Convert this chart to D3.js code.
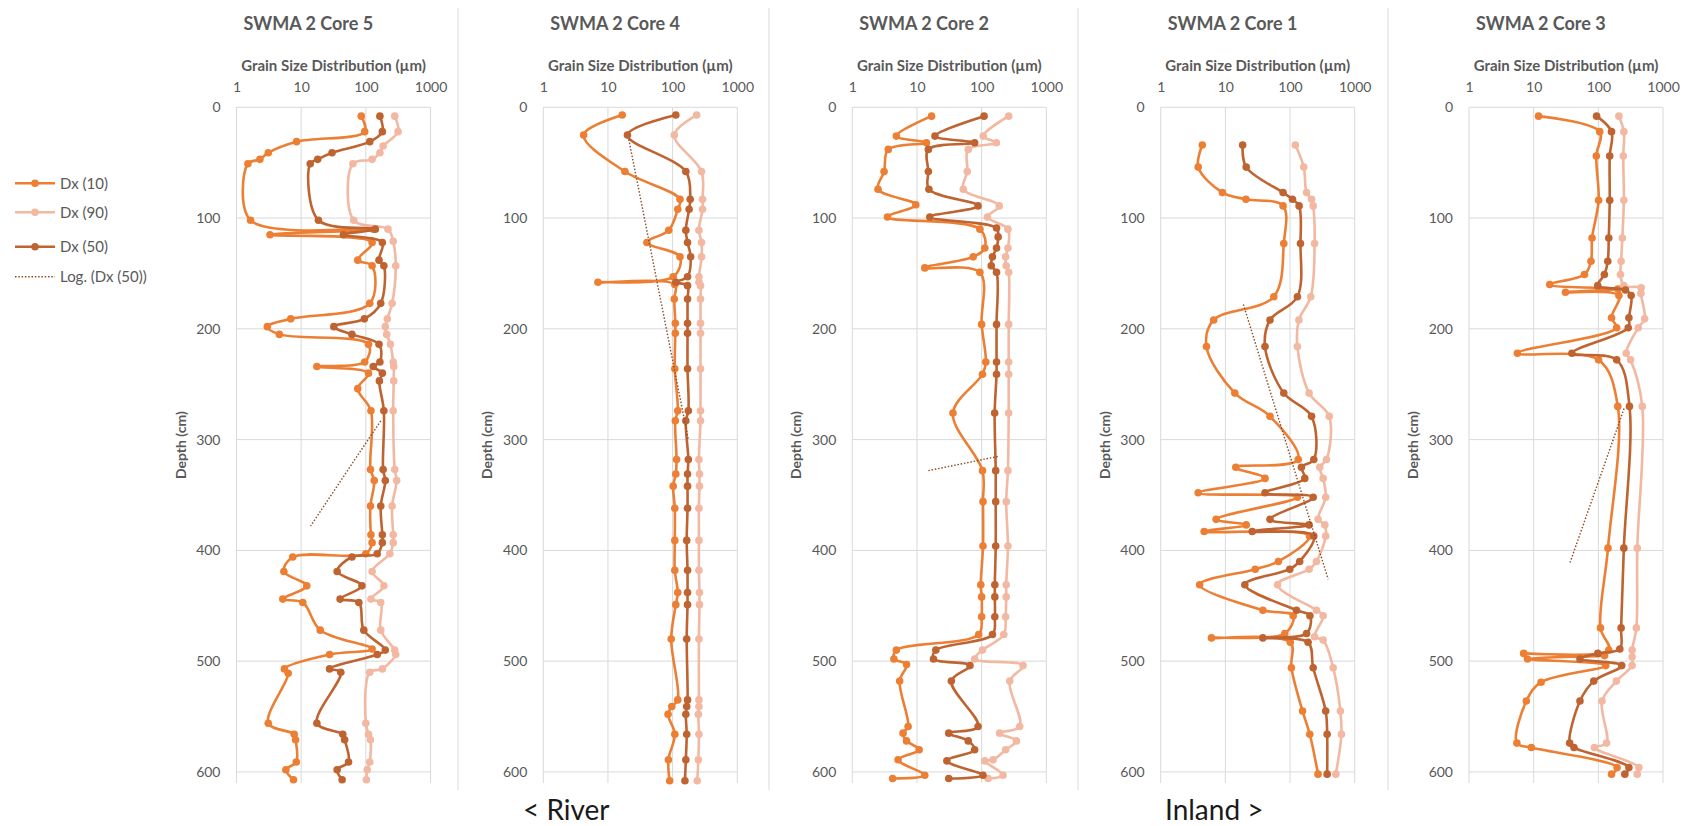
<!DOCTYPE html>
<html><head><meta charset="utf-8">
<script src="https://cdn.jsdelivr.net/npm/d3@7"></script>
<style>
body{margin:0;background:#fff}
svg{display:block}
text{font-family:Lato,"Open Sans",sans-serif}
</style>
</head><body>
<svg id="chart" width="1692" height="826"></svg>
<script>
// ---- data: [depth (cm), grain size (µm)] ----
const coreTitles = ["SWMA 2 Core 5", "SWMA 2 Core 4", "SWMA 2 Core 2", "SWMA 2 Core 1", "SWMA 2 Core 3"];
const sizeTicks = [1, 10, 100, 1000];
const depthTicks = [0, 100, 200, 300, 400, 500, 600];
const seriesNames = ["Dx (10)", "Dx (90)", "Dx (50)", "Log. (Dx (50))"];

const core5_dx10 = [[8,85],[22,96],[31,8.5],[41,3.1],[47,2.3],[51,1.5],[102,1.65],[110,130],[115,3.3],[122,125],[138,75],[143,125],[177,115],[191,6.9],[198,3],[205,4.6],[214,110],[230,96],[234,17.5],[240,110],[254,75],[274,120],[327,118],[337,135],[360,118],[386,120],[393,125],[403,100],[406,7.4],[419,5.4],[432,12.2],[444,5.2],[447,10.6],[472,19.7],[489,125],[494,27.5],[507,5.5],[511,6.3],[556,3.1],[566,7.8],[571,8.2],[591,8.4],[598,5.8],[607,7.6]];
const core5_dx50 = [[8,165],[22,180],[31,115],[41,30],[47,18],[51,13.8],[102,18.5],[110,140],[115,45],[122,180],[138,160],[143,190],[177,170],[191,95],[198,32],[205,61],[214,160],[230,165],[234,130],[240,180],[247,162],[274,190],[327,185],[337,200],[360,170],[386,180],[393,180],[403,150],[406,61],[419,36],[432,87],[444,40],[447,78],[472,93],[490,200],[494,150],[507,27.5],[510,41],[556,17.5],[566,44],[571,47],[591,54],[598,36],[607,43]];
const core5_dx90 = [[8,280],[22,315],[35,185],[41,165],[47,125],[51,63],[102,65],[110,220],[121,265],[143,290],[177,255],[191,215],[198,200],[205,210],[214,240],[230,265],[234,270],[247,270],[274,265],[327,280],[337,300],[360,255],[386,265],[393,265],[403,235],[419,125],[432,190],[444,120],[447,170],[472,170],[490,280],[494,290],[507,180],[510,115],[556,100],[566,110],[571,118],[591,115],[598,105],[607,102]];
const core5_trend = [[283,170],[378,14]];

const core4_dx10 = [[7,16.6],[25,4.2],[58,18.3],[83,130],[92,120],[111,87],[122,40],[135,130],[153,102],[158,7],[160,108],[173,106],[195,110],[204,110],[236,108],[274,120],[283,110],[318,115],[331,112],[342,102],[362,108],[391,108],[418,108],[438,120],[449,112],[480,95],[535,120],[541,97],[548,85],[566,108],[589,86],[608,90]];
const core4_dx50 = [[7,112],[25,20],[58,160],[83,187],[92,180],[111,160],[122,170],[135,190],[153,170],[158,112],[161,170],[173,170],[195,170],[204,170],[236,170],[274,175],[283,160],[318,175],[331,170],[342,170],[362,170],[391,165],[418,170],[438,170],[449,170],[480,165],[535,170],[541,165],[548,160],[566,165],[589,160],[608,155]];
const core4_dx90 = [[7,235],[25,106],[58,280],[83,290],[92,290],[111,255],[122,280],[135,280],[153,255],[158,255],[161,270],[173,270],[195,270],[204,270],[236,270],[274,270],[283,270],[318,255],[331,260],[342,260],[362,255],[391,255],[418,255],[438,260],[449,260],[480,255],[535,255],[541,255],[548,250],[566,255],[589,250],[608,240]];
const core4_trend = [[29,21],[300,175]];

const core2_dx10 = [[8,16.8],[26,4.8],[32,14],[38,3.6],[58,3.1],[74,2.5],[88,9.6],[99,3.5],[110,94],[127,112],[135,74],[145,13.2],[149,94],[196,100],[230,116],[241,103],[276,36],[328,103],[356,105],[396,105],[431,97],[442,100],[460,100],[476,90],[490,4.8],[498,4.4],[503,6.9],[518,5.4],[559,7.3],[565,6.1],[572,6.9],[580,10.8],[589,5.1],[603,13.2],[606,4.2]];
const core2_dx50 = [[8,109],[26,19],[32,78],[38,15],[58,15],[74,15.3],[89,88],[99,15.8],[109,170],[117,180],[127,170],[135,147],[143,141],[149,170],[196,170],[230,170],[241,170],[276,159],[328,165],[356,165],[396,165],[431,160],[442,160],[460,160],[476,147],[490,19.6],[498,18],[504,66],[518,34],[559,88],[565,31],[572,62],[580,78],[590,29],[603,105],[606,31]];
const core2_dx90 = [[8,262],[26,106],[32,169],[38,62],[58,60],[74,52],[89,187],[99,123],[110,255],[127,255],[135,235],[143,240],[149,262],[196,262],[230,262],[241,262],[276,262],[328,255],[356,240],[396,255],[431,240],[442,240],[460,235],[476,220],[490,103],[498,78],[504,437],[518,272],[559,388],[565,190],[572,345],[580,235],[589,150],[590,112],[603,214],[606,126]];
const core2_trend = [[328,15],[315,186]];

const core1_dx10 = [[34,4.4],[54,3.8],[77,9],[83,20.8],[89,78],[123,80],[171,56],[192,6.6],[216,5.1],[258,14],[279,49],[318,134],[325,14.5],[335,41],[348,3.8],[352,130],[372,7.2],[377,21],[383,4.7],[387,200],[410,66],[417,29],[431,4],[454,38],[459,112],[475,83],[479,6.1],[483,101],[506,105],[545,156],[566,202],[602,271]];
const core1_dx50 = [[34,18.5],[54,21],[77,78],[83,109],[89,138],[123,145],[171,130],[192,49],[216,41],[258,80],[279,215],[318,233],[325,150],[335,169],[348,41],[352,228],[372,49],[377,197],[383,26],[387,233],[410,141],[417,99],[431,20],[454,126],[459,203],[475,180],[479,38],[483,190],[506,228],[545,356],[566,375],[602,375]];
const core1_dx90 = [[34,121],[54,163],[77,180],[83,215],[89,228],[123,240],[171,209],[192,137],[216,130],[258,197],[279,404],[318,366],[325,288],[335,325],[352,356],[372,272],[377,345],[387,356],[410,256],[417,197],[431,64],[454,256],[459,325],[478,240],[481,325],[506,465],[545,600],[566,623],[602,510]];
const core1_trend = [[178,19],[426,388]];

const core3_dx10 = [[8,11.9],[22,105],[44,93],[84,101],[118,80],[139,77],[151,61],[160,17.7],[164,200],[167,31],[170,208],[190,160],[199,192],[222,5.6],[228,101],[270,200],[398,141],[470,108],[490,145],[493,7],[495,125],[498,8],[504,130],[519,13],[536,7.7],[574,5.5],[578,9.2],[596,195],[602,160]];
const core3_dx50 = [[8,94],[22,160],[44,150],[84,150],[118,145],[139,140],[151,124],[161,98],[165,263],[170,322],[190,297],[199,290],[222,39],[228,192],[270,303],[398,248],[470,225],[489,215],[493,98],[498,52],[504,230],[518,85],[536,52],[574,36],[578,42],[596,297],[602,257]];
const core3_dx90 = [[8,208],[22,248],[44,243],[84,248],[118,235],[139,225],[151,220],[161,248],[163,460],[168,455],[191,520],[199,415],[222,270],[228,315],[270,478],[398,400],[470,387],[490,333],[496,333],[504,333],[518,190],[536,114],[574,134],[578,87],[596,424],[602,400]];
const core3_trend = [[272,250],[412,36]];

// ---- layout ----
const cores = [
  {title: coreTitles[0], d10: core5_dx10, d90: core5_dx90, d50: core5_dx50, trend: core5_trend},
  {title: coreTitles[1], d10: core4_dx10, d90: core4_dx90, d50: core4_dx50, trend: core4_trend},
  {title: coreTitles[2], d10: core2_dx10, d90: core2_dx90, d50: core2_dx50, trend: core2_trend},
  {title: coreTitles[3], d10: core1_dx10, d90: core1_dx90, d50: core1_dx50, trend: core1_trend},
  {title: coreTitles[4], d10: core3_dx10, d90: core3_dx90, d50: core3_dx50, trend: core3_trend}
];
const plotLefts = [236.5, 543.3, 852.3, 1160.7, 1469];
const plotW = 194;
const plotTop = 107.3, plotBottom = 783;
const depthMax = 610;
const separators = [458, 769, 1078, 1388];

const colors = {d10: "#EC7F33", d90: "#F2B8A2", d50: "#BF6330", trend: "#8E4A22"};
const textGrey = "#595959";
const gridGrey = "#D9D9D9";

const svg = d3.select("#chart");

// chart frame separators
svg.selectAll("line.sep").data(separators).join("line")
  .attr("x1", d => d).attr("x2", d => d)
  .attr("y1", 8).attr("y2", 790)
  .attr("stroke", gridGrey).attr("stroke-width", 1);

const y = d3.scaleLinear().domain([0, depthMax]).range([plotTop, plotBottom]);

cores.forEach((core, i) => {
  const left = plotLefts[i];
  const x = d3.scaleLog().domain([1, 1000]).range([left, left + plotW]);
  const g = svg.append("g");

  // gridlines
  g.selectAll("line.hg").data(depthTicks).join("line")
    .attr("x1", left).attr("x2", left + plotW)
    .attr("y1", d => y(d)).attr("y2", d => y(d))
    .attr("stroke", gridGrey).attr("stroke-width", 1);
  g.selectAll("line.vg").data(sizeTicks).join("line")
    .attr("x1", d => x(d)).attr("x2", d => x(d))
    .attr("y1", plotTop).attr("y2", plotBottom)
    .attr("stroke", gridGrey).attr("stroke-width", 1);

  // axes
  const xAxis = g.append("g").attr("transform", `translate(0,${plotTop})`)
    .call(d3.axisTop(x).tickValues(sizeTicks).tickFormat(d3.format("d")).tickSize(0).tickPadding(15));
  const yAxis = g.append("g").attr("transform", `translate(${left},0)`)
    .call(d3.axisLeft(y).tickValues(depthTicks).tickFormat(d3.format("d")).tickSize(0).tickPadding(16));
  [xAxis, yAxis].forEach(a => {
    a.select(".domain").remove();
    a.selectAll("text").attr("fill", textGrey).style("font-size", "14px")
      .style("font-family", "Lato, 'Open Sans', sans-serif");
  });

  // titles
  g.append("text").attr("x", left + 7).attr("y", 29.5)
    .attr("fill", textGrey).attr("font-weight", "bold").attr("font-size", 18)
    .text(core.title);
  g.append("text").attr("x", left + plotW / 2).attr("y", 70.5)
    .attr("text-anchor", "middle").attr("fill", textGrey)
    .attr("font-weight", "bold").attr("font-size", 15)
    .text("Grain Size Distribution (µm)");
  g.append("text")
    .attr("transform", `translate(${left - 51},${(plotTop + plotBottom) / 2}) rotate(-90)`)
    .attr("text-anchor", "middle").attr("fill", textGrey)
    .attr("font-weight", "bold").attr("font-size", 14)
    .text("Depth (cm)");

  const line = d3.line().x(d => x(d[1])).y(d => y(d[0]))
    .curve(d3.curveCatmullRom.alpha(0.5));

  ["d10", "d90", "d50"].forEach(key => {
    const data = core[key];
    g.append("path").datum(data).attr("d", line)
      .attr("fill", "none").attr("stroke", colors[key])
      .attr("stroke-width", 2.6).attr("stroke-linejoin", "round");
    g.selectAll(null).data(data).join("circle")
      .attr("cx", d => x(d[1])).attr("cy", d => y(d[0])).attr("r", 3.8)
      .attr("fill", colors[key]);
  });

  // logarithmic trend of Dx (50)
  g.append("path").datum(core.trend)
    .attr("d", d3.line().x(d => x(d[1])).y(d => y(d[0])))
    .attr("fill", "none").attr("stroke", colors.trend)
    .attr("stroke-width", 1.4).attr("stroke-dasharray", "1.5,1.8");
});

// legend
const legendKeys = ["d10", "d90", "d50", "trend"];
const legendY = [183.3, 212.3, 246.7, 276.7];
const lg = svg.append("g");
legendKeys.forEach((k, i) => {
  const yy = legendY[i];
  const ln = lg.append("line").attr("x1", 15).attr("x2", 55).attr("y1", yy).attr("y2", yy)
    .attr("stroke", colors[k]);
  if (k === "trend") {
    ln.attr("stroke-width", 1.4).attr("stroke-dasharray", "1.5,1.8");
  } else {
    ln.attr("stroke-width", 2.6);
    lg.append("circle").attr("cx", 35).attr("cy", yy).attr("r", 3.8).attr("fill", colors[k]);
  }
  lg.append("text").attr("x", 60).attr("y", yy).attr("dy", "0.35em")
    .attr("fill", textGrey).attr("font-size", 15).text(seriesNames[i]);
});

// direction labels
svg.append("text").attr("x", 523).attr("y", 820).attr("font-size", 28).attr("fill", "#1a1a1a").text("< River");
svg.append("text").attr("x", 1165).attr("y", 820).attr("font-size", 28).attr("fill", "#1a1a1a").text("Inland >");
</script>
</body></html>
